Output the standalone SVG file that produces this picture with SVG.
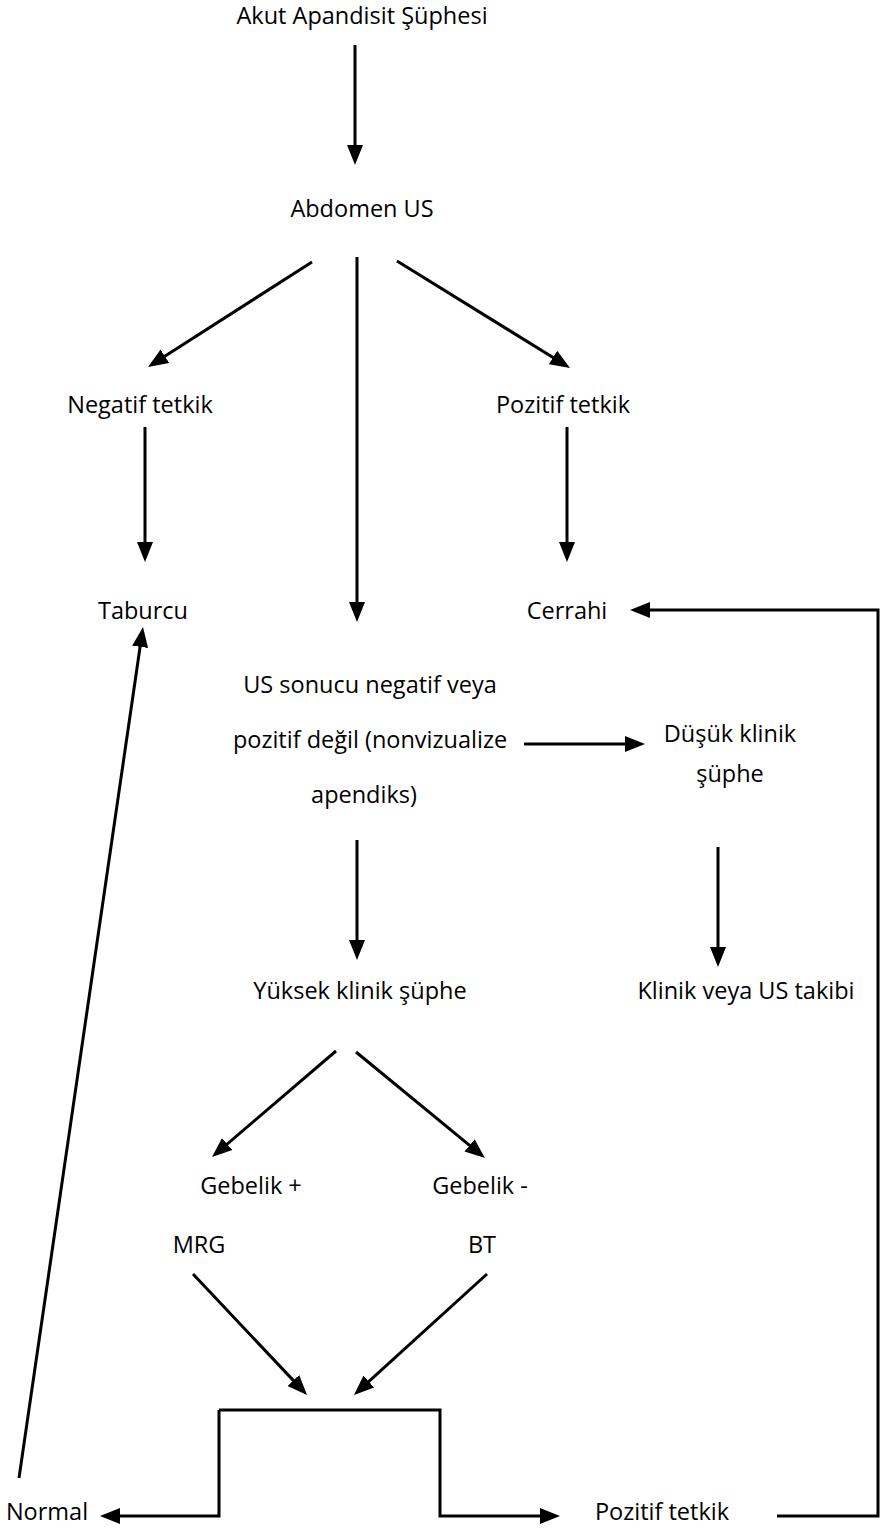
<svg xmlns="http://www.w3.org/2000/svg" width="881" height="1528" viewBox="0 0 881 1528">
<defs>
<style>
text{font-family:"Open Sans","Noto Sans","DejaVu Sans",sans-serif;font-size:23.5px;fill:#000;text-anchor:middle}
.c{fill:none;stroke:#000;stroke-width:3;stroke-linejoin:miter}
.a{marker-end:url(#ah)}
</style>
<marker id="ah" markerUnits="userSpaceOnUse" markerWidth="22" markerHeight="18" refX="2" refY="8" orient="auto" viewBox="0 0 22 16">
<path d="M0,0 L20,8 L0,16 z" fill="#000"/>
</marker>
</defs>
<rect width="881" height="1528" fill="#fff"/>
<g id="connectors">
<line class="c a" x1="355" y1="45" x2="355" y2="147"/>
<line class="c a" x1="312" y1="262" x2="163.2" y2="357.3"/>
<line class="c a" x1="357" y1="257" x2="357" y2="604"/>
<line class="c a" x1="397" y1="261" x2="554.7" y2="358.5"/>
<line class="c a" x1="145" y1="427" x2="145" y2="544"/>
<line class="c a" x1="567" y1="427" x2="567" y2="544"/>
<path class="c a" d="M777,1516 H878 V610 H648"/>
<line class="c a" x1="524" y1="744" x2="627" y2="744"/>
<line class="c a" x1="718" y1="847" x2="718" y2="949"/>
<line class="c a" x1="357" y1="840" x2="357" y2="942"/>
<line class="c a" x1="336" y1="1051" x2="225.7" y2="1145.3"/>
<line class="c a" x1="356" y1="1052" x2="471.1" y2="1146.6"/>
<line class="c a" x1="193" y1="1274" x2="294.7" y2="1381.9"/>
<line class="c a" x1="487" y1="1274" x2="367.3" y2="1382.9"/>
<path class="c a" d="M219,1410 H440 V1516 H542"/>
<path class="c a" d="M219,1410 V1516 H118"/>
<line class="c a" x1="19" y1="1478" x2="140.4" y2="644.8"/>
</g>
<g id="n1"><text x="362" y="24">Akut Apandisit Şüphesi</text></g>
<g id="n2"><text x="362" y="217">Abdomen US</text></g>
<g id="n3"><text x="140" y="413">Negatif tetkik</text></g>
<g id="n4"><text x="563" y="413">Pozitif tetkik</text></g>
<g id="n5"><text x="143" y="619">Taburcu</text></g>
<g id="n6"><text x="567" y="619">Cerrahi</text></g>
<g id="n7"><text x="370" y="693">US sonucu negatif veya</text><text x="370" y="748">pozitif değil (nonvizualize</text><text x="364" y="803">apendiks)</text></g>
<g id="n8"><text x="730" y="742">Düşük klinik</text><text x="730" y="782">şüphe</text></g>
<g id="n9"><text x="746" y="999">Klinik veya US takibi</text></g>
<g id="n10"><text x="360" y="999">Yüksek klinik şüphe</text></g>
<g id="n11"><text x="251" y="1194">Gebelik +</text></g>
<g id="n12"><text x="480" y="1194">Gebelik -</text></g>
<g id="n13"><text x="199" y="1253">MRG</text></g>
<g id="n14"><text x="482" y="1253">BT</text></g>
<g id="n15"><text x="47" y="1520">Normal</text></g>
<g id="n16"><text x="662" y="1520">Pozitif tetkik</text></g>
</svg>
